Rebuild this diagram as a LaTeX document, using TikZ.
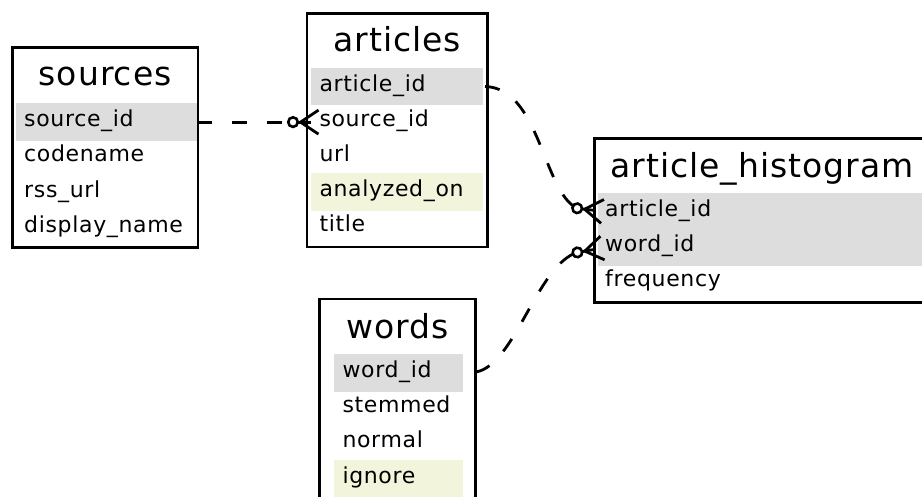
\documentclass[tikz,border=0pt]{standalone}
\usepackage{fontspec}
\setmainfont{DejaVu Sans}[LetterSpace=3]
\definecolor{keygray}{HTML}{DDDDDD}
\definecolor{idxyel}{HTML}{F2F5DC}
\tikzset{
  tbl/.style={draw=black, line width=2.8pt, fill=white, rectangle, inner sep=0pt, outer sep=0pt, anchor=north west},
  ttl/.style={anchor=base, inner sep=0pt, font=\fontsize{33}{38}\selectfont},
  fld/.style={anchor=base west, inner sep=0pt, font=\fontsize{22}{25}\selectfont},
  rel/.style={line width=2.8pt, dash pattern=on 15pt off 20pt},
  crowodot/.pic={
    \draw[line width=2.8pt] (-21,0) -- (-8,0);
    \draw[line width=2.8pt] (0,-12) -- (-18,0) -- (0,12);
    \draw[line width=2.6pt, fill=white] (-25.5,0) circle[radius=4.8];
  }
}
\begin{document}
\begin{tikzpicture}[x=1pt,y=-1pt]
\useasboundingbox (0,0) rectangle (922,496);
\clip (0,0) rectangle (922,496);
\fill[white] (0,0) rectangle (922,496);

% sources
\node[tbl, minimum width=185.7pt, minimum height=200.5pt] (sources) at (12.3,47.3) {};
\fill[keygray] (16,103.3) rectangle (196.7,140.9);
\node[ttl] (sources-title) at (105.2,85.7) {sources};
\node[fld] (sources-source_id) at (24,126.7) {source\_id};
\node[fld] (sources-codename) at (24,161.9) {codename};
\node[fld] (sources-rss_url) at (24,197.1) {rss\_url};
\node[fld] (sources-display_name) at (24,232.3) {display\_name};

% articles
\node[tbl, minimum width=180.5pt, minimum height=233.9pt] (articles) at (307,13.1) {};
\fill[keygray] (311,67.7) rectangle (483.3,105.3);
\fill[idxyel] (311,173.3) rectangle (483.3,210.9);
\node[ttl] (articles-title) at (397.2,51.7) {articles};
\node[fld] (articles-article_id) at (319.3,91.1) {article\_id};
\node[fld] (articles-source_id) at (319.3,126.3) {source\_id};
\node[fld] (articles-url) at (319.3,161.5) {url};
\node[fld] (articles-analyzed_on) at (319.3,196.7) {analyzed\_on};
\node[fld] (articles-title_f) at (319.3,231.9) {title};

% article_histogram
\node[tbl, minimum width=335.8pt, minimum height=164pt] (hist) at (594.2,138.7) {};
\fill[keygray] (597.7,192.7) rectangle (925,265.5);
\node[ttl] (hist-title) at (762,177.3) {article\_histogram};
\node[fld] (hist-article_id) at (605,216.1) {article\_id};
\node[fld] (hist-word_id) at (605,251.3) {word\_id};
\node[fld] (hist-frequency) at (605,286.5) {frequency};

% words
\node[tbl, minimum width=155.6pt, minimum height=241pt] (words) at (319.7,299) {};
\fill[keygray] (334.3,354) rectangle (462.7,391.6);
\fill[idxyel] (334.3,459.6) rectangle (462.7,497.2);
\node[ttl] (words-title) at (397.5,338.3) {words};
\node[fld] (words-word_id) at (342.3,377.4) {word\_id};
\node[fld] (words-stemmed) at (342.3,412.6) {stemmed};
\node[fld] (words-normal) at (342.3,447.8) {normal};
\node[fld] (words-ignore) at (342.3,483) {ignore};

% ports
\coordinate (p-src) at (197,122.1);
\coordinate (c-src) at (293,122.1);
\coordinate (p-art) at (485,86.5);
\coordinate (c-art) at (577.2,208.3);
\coordinate (p-wrd) at (476,372);
\coordinate (c-wrd) at (577.4,252.3);

% relations
\draw[rel] (p-src) -- (c-src);
\draw[rel] (p-art) .. controls (540,88) and (543,192) .. (c-art);
\draw[rel] (p-wrd) .. controls (515,365) and (537,265) .. (c-wrd);

\pic at (318.5,122.1) {crowodot};
\pic[rotate=-7] at (602.5,211.4) {crowodot};
\pic[rotate=10] at (602.5,248) {crowodot};
\end{tikzpicture}
\end{document}
